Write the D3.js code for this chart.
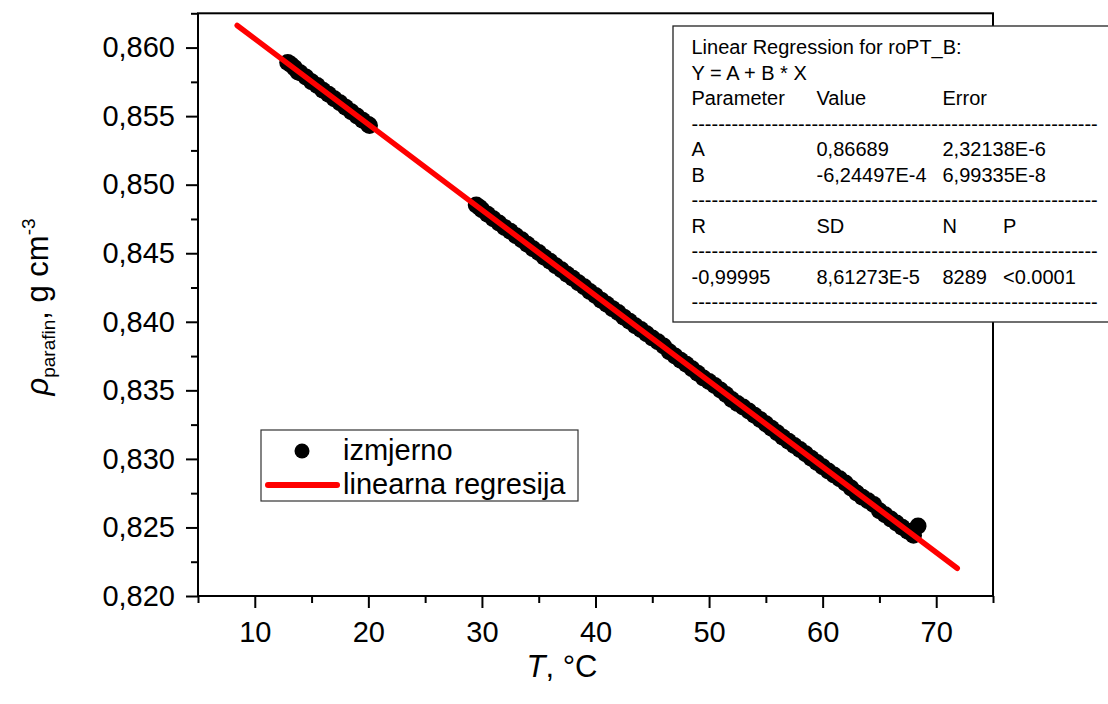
<!DOCTYPE html>
<html>
<head>
<meta charset="utf-8">
<script src="https://cdn.jsdelivr.net/npm/d3@7"></script>
<style>
  body { margin: 0; background: #fff; }
  text { font-family: 'Liberation Sans', Arial, sans-serif; fill: #000; }
</style>
</head>
<body>
<svg width="1108" height="704"></svg>
<script>
const measuredT = [
  12.9, 13.2, 13.5, 13.8, 14.0, 14.5, 15.0, 15.5, 16.0, 16.5, 17.0, 17.5, 18.0, 18.5, 19.0, 19.5, 20.0, 20.1,
  29.5, 29.8, 30.0, 30.5, 31.0, 31.5, 32.0, 32.5, 33.0, 33.5, 34.0, 34.5, 35.0, 35.5, 36.0, 36.5, 37.0, 37.5,
  38.0, 38.5, 39.0, 39.5, 40.0, 40.5, 41.0, 41.5, 42.0, 42.5, 43.0, 43.5, 44.0, 44.5, 45.0, 45.5, 46.0, 46.5,
  47.0, 47.5, 48.0, 48.5, 49.0, 49.5, 50.0, 50.5, 51.0, 51.5, 52.0, 52.5, 53.0, 53.5, 54.0, 54.5, 55.0, 55.5,
  56.0, 56.5, 57.0, 57.5, 58.0, 58.5, 59.0, 59.5, 60.0, 60.5, 61.0, 61.5, 62.0, 62.5, 63.0, 63.5, 64.0, 64.5,
  65.0, 65.5, 66.0, 66.5, 67.0, 67.5, 68.0, 68.4
];
const measuredRho = [
  0.85892, 0.85874, 0.85852, 0.85822, 0.85816, 0.85786, 0.85750, 0.85723, 0.85688, 0.85660, 0.85626, 0.85598, 0.85565, 0.85532, 0.85501, 0.85470, 0.85439, 0.85431,
  0.84852, 0.84833, 0.84818, 0.84785, 0.84751, 0.84721, 0.84688, 0.84660, 0.84627, 0.84599, 0.84566, 0.84533, 0.84505, 0.84471, 0.84442, 0.84408, 0.84380, 0.84346,
  0.84317, 0.84284, 0.84255, 0.84221, 0.84192, 0.84158, 0.84128, 0.84096, 0.84067, 0.84034, 0.84004, 0.83971, 0.83943, 0.83913, 0.83882, 0.83855, 0.83823, 0.83782,
  0.83751, 0.83720, 0.83690, 0.83658, 0.83625, 0.83590, 0.83565, 0.83535, 0.83503, 0.83470, 0.83434, 0.83404, 0.83378, 0.83349, 0.83318, 0.83287, 0.83256, 0.83223,
  0.83190, 0.83158, 0.83128, 0.83098, 0.83068, 0.83037, 0.83005, 0.82974, 0.82942, 0.82911, 0.82882, 0.82856, 0.82825, 0.82787, 0.82752, 0.82720, 0.82694, 0.82668,
  0.82622, 0.82592, 0.82562, 0.82532, 0.82502, 0.82472, 0.82443, 0.82510
];

// end points of the regression line
const fitT = [8.45, 71.85];
const fitRho = [0.861613, 0.822020];

// ticks
const xMajor = [10, 20, 30, 40, 50, 60, 70];
const xMinor = [5, 15, 25, 35, 45, 55, 65, 75];
const yMajor = [0.820, 0.825, 0.830, 0.835, 0.840, 0.845, 0.850, 0.855, 0.860];
const yMinor = [0.8225, 0.8275, 0.8325, 0.8375, 0.8425, 0.8475, 0.8525, 0.8575, 0.8625];

// legend entries
const legendLabels = ['izmjerno', 'linearna regresija'];

// regression report (Origin style)
const regTitle = ['Linear Regression for roPT_B:', 'Y = A + B * X'];
const regRows = [
  ['Parameter', 'Value', 'Error'],
  '-',
  ['A', '0,86689', '2,32138E-6'],
  ['B', '-6,24497E-4', '6,99335E-8'],
  '-',
  ['R', 'SD', 'N', 'P'],
  '-',
  ['-0,99995', '8,61273E-5', '8289', '<0.0001'],
  '-'
];

const svg = d3.select('svg');

const x = d3.scaleLinear().domain([5, 75]).range([198, 993]);
const y = d3.scaleLinear().domain([0.820, 0.8625]).range([596, 13.3]);

const fmtY = d => d3.format('.3f')(d).replace('.', ',');

// x axis, major + minor
const xAxis = svg.append('g').attr('transform', `translate(0,${y(0.820)})`);
xAxis.call(d3.axisBottom(x).tickValues(xMajor).tickSize(12).tickPadding(13));
xAxis.append('g').call(d3.axisBottom(x).tickValues(xMinor).tickSize(7).tickFormat(''));

// y axis, major + minor
const yAxis = svg.append('g').attr('transform', `translate(${x(5)},0)`);
yAxis.call(d3.axisLeft(y).tickValues(yMajor).tickSize(12).tickPadding(11).tickFormat(fmtY));
yAxis.append('g').call(d3.axisLeft(y).tickValues(yMinor).tickSize(7).tickFormat(''));

svg.selectAll('.domain').remove();
svg.selectAll('.tick line').attr('stroke', '#000').attr('stroke-width', 2);
svg.selectAll('.tick text')
  .attr('font-size', 29)
  .attr('font-family', "'Liberation Sans', Arial, sans-serif")
  .attr('fill', '#000');

// frame
svg.append('rect')
  .attr('x', x(5))
  .attr('y', y(0.8625))
  .attr('width', x(75) - x(5))
  .attr('height', y(0.820) - y(0.8625))
  .attr('fill', 'none')
  .attr('stroke', '#000')
  .attr('stroke-width', 2);

// measured points
svg.append('g')
  .selectAll('circle')
  .data(measuredT)
  .join('circle')
  .attr('cx', d => x(d))
  .attr('cy', (d, i) => y(measuredRho[i]))
  .attr('r', 8.5)
  .attr('fill', '#000');

// regression line on top
svg.append('line')
  .attr('x1', x(fitT[0]))
  .attr('y1', y(fitRho[0]))
  .attr('x2', x(fitT[1]))
  .attr('y2', y(fitRho[1]))
  .attr('stroke', '#ff0000')
  .attr('stroke-width', 5.5)
  .attr('stroke-linecap', 'round');

// legend
const legend = svg.append('g');
legend.append('rect')
  .attr('x', 261).attr('y', 430)
  .attr('width', 317).attr('height', 71)
  .attr('fill', '#fff')
  .attr('stroke', '#333')
  .attr('stroke-width', 1.2);
legend.append('circle').attr('cx', 302).attr('cy', 451).attr('r', 7.5).attr('fill', '#000');
legend.append('line')
  .attr('x1', 268).attr('x2', 337).attr('y1', 485).attr('y2', 485)
  .attr('stroke', '#ff0000').attr('stroke-width', 6).attr('stroke-linecap', 'round');
legend.selectAll('text')
  .data(legendLabels)
  .join('text')
  .attr('x', 343)
  .attr('y', (d, i) => 460 + i * 34)
  .attr('font-size', 29)
  .text(d => d);

// regression report box (runs off the right edge)
const reg = svg.append('g');
reg.append('rect')
  .attr('x', 673).attr('y', 26)
  .attr('width', 460).attr('height', 296)
  .attr('fill', '#fff')
  .attr('stroke', '#222')
  .attr('stroke-width', 1.3);

const colX = [691.5, 816.5, 942.5, 1003];
const lineH = 25.5;
regTitle.forEach((t, i) => {
  reg.append('text').attr('x', colX[0]).attr('y', 54 + i * lineH).attr('font-size', 20).text(t);
});
regRows.forEach((row, i) => {
  const yy = 54 + (i + 2) * lineH;
  if (row === '-') {
    reg.append('text').attr('x', colX[0]).attr('y', yy).attr('font-size', 20).text('-'.repeat(61));
  } else {
    row.forEach((cell, j) => {
      reg.append('text').attr('x', colX[j]).attr('y', yy).attr('font-size', 20).text(cell);
    });
  }
});

// axis titles
const xt = svg.append('text')
  .attr('x', 562).attr('y', 677)
  .attr('text-anchor', 'middle')
  .attr('font-size', 31);
xt.append('tspan').attr('font-style', 'italic').text('T');
xt.append('tspan').text(', °C');

const yt = svg.append('text')
  .attr('transform', 'translate(48,307) rotate(-90)')
  .attr('text-anchor', 'middle')
  .attr('font-size', 31);
yt.append('tspan').attr('font-style', 'italic').text('ρ');
yt.append('tspan').attr('font-size', 19).attr('dy', 7).text('parafin');
yt.append('tspan').attr('dy', -7).text(', g cm');
yt.append('tspan').attr('font-size', 19).attr('dy', -13).text('-3');
</script>
</body>
</html>
